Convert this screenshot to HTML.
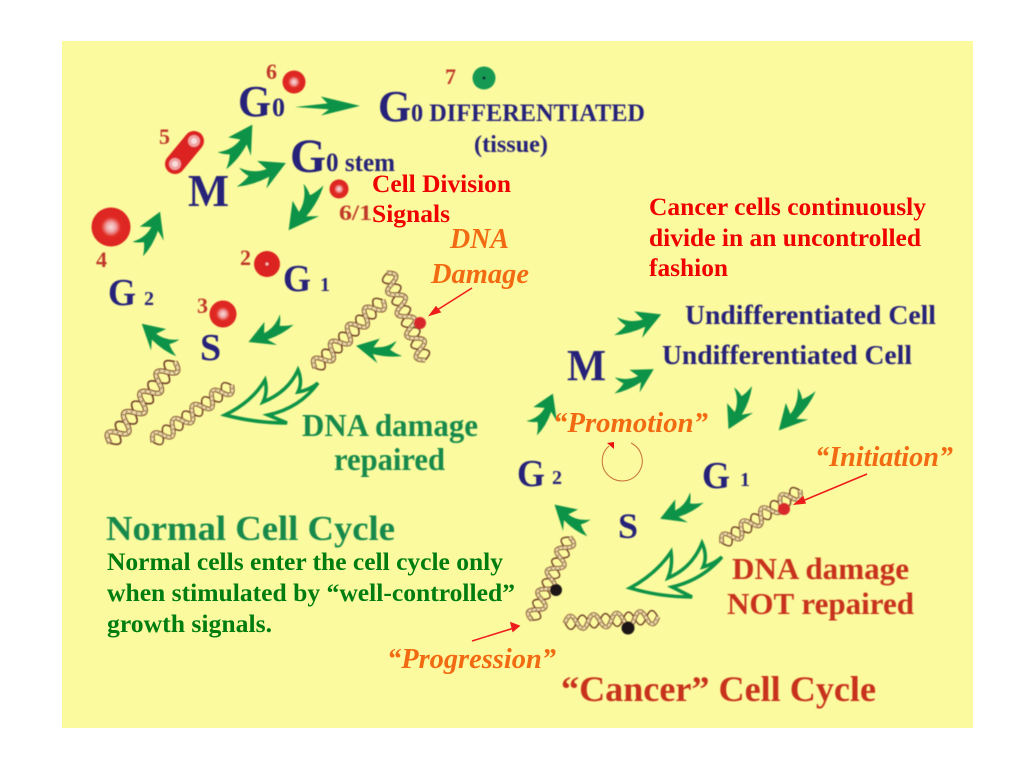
<!DOCTYPE html>
<html><head><meta charset="utf-8"><style>
html,body{margin:0;padding:0;background:#fff}
svg{display:block}
text{font-family:"Liberation Serif",serif;font-weight:bold}
.n{fill:#26227a}.o{fill:#c0392b}.r{fill:#f00000}.g{fill:#007d10}.dg{fill:#12894c}.cr{fill:#c8301e}
.or{fill:#f26a12;font-style:italic}
</style></head><body>
<svg width="1024" height="768" viewBox="0 0 1024 768" xmlns="http://www.w3.org/2000/svg">
<defs>
<radialGradient id="c"><stop offset="0" stop-color="#f8dcdc"/><stop offset=".25" stop-color="#f0a2a2"/><stop offset=".5" stop-color="#e02a24"/><stop offset="1" stop-color="#dd2420"/></radialGradient>
<path id="ar" d="M0,13 Q9,9 13,5 Q8,0 6,-5 Q18,4 31,2 L24,-8 L50,0 L27,21 L32,10 Q15,15 0,13 Z" fill="#0f9347"/>
<path id="ars" d="M0,0 L25,-3 L20,-10 L50,0 L20,9 L26,3 Z" fill="#0f9347"/>
<g id="dna" fill="none">
<path d="M0,0 q6,16 12.5,0 t12.5,0 t12.5,0 t12.5,0 t12.5,0 t12.5,0 t12.5,0 t12.5,0" stroke="#6e3c28" stroke-width="1.6"/>
<path d="M0,0 q6,-16 12.5,0 t12.5,0 t12.5,0 t12.5,0 t12.5,0 t12.5,0 t12.5,0 t12.5,0" stroke="#7a4028" stroke-width="5"/>
<path d="M0,0 q6,-16 12.5,0 t12.5,0 t12.5,0 t12.5,0 t12.5,0 t12.5,0 t12.5,0 t12.5,0" stroke="#efdca4" stroke-width="2.8"/>
<path d="M0,0 q6,-16 12.5,0 t12.5,0 t12.5,0 t12.5,0 t12.5,0 t12.5,0 t12.5,0 t12.5,0" stroke="#5a4030" stroke-width="1.2" stroke-dasharray="1.5 3.5"/>
</g>
<filter id="b" x="-5%" y="-5%" width="110%" height="110%"><feGaussianBlur stdDeviation="0.45"/></filter>
</defs>
<rect x="62" y="41" width="911" height="687" fill="#fcfa9e"/>
<g filter="url(#b)">
<!-- cells -->
<circle cx="294" cy="82" r="11.5" fill="url(#c)"/>
<circle cx="339" cy="189" r="9.5" fill="url(#c)"/>
<circle cx="111" cy="227" r="19.5" fill="url(#c)"/>
<circle cx="267" cy="264" r="13" fill="#dd2420"/><circle cx="267" cy="264" r="1.5" fill="#f6c0c0"/>
<circle cx="223" cy="314" r="13.5" fill="url(#c)"/>
<line x1="194" y1="141" x2="175" y2="164" stroke="#dd2420" stroke-width="20" stroke-linecap="round"/>
<circle cx="194" cy="141" r="6" fill="#f0a2a2"/><circle cx="194" cy="141" r="3" fill="#f8dcdc"/>
<circle cx="175" cy="164" r="6" fill="#f0a2a2"/><circle cx="175" cy="164" r="3" fill="#f8dcdc"/>
<circle cx="484" cy="78" r="11.5" fill="#139a52"/><circle cx="484" cy="78" r="1.5" fill="#123"/>
<!-- green arrows -->
<use href="#ars" transform="translate(295,107) rotate(-1) scale(1.3,1)"/>
<use href="#ar" transform="translate(217,160) rotate(-45) scale(1,1)"/>
<use href="#ar" transform="translate(234,174) rotate(-12) scale(1.06,1)"/>
<use href="#ar" transform="translate(311,180) rotate(114) scale(1.1,-1.05)"/>
<use href="#ar" transform="translate(133,249) rotate(-54) scale(.92,.95)"/>
<use href="#ar" transform="translate(287,315) rotate(145) scale(.94,-.9)"/>
<use href="#ar" transform="translate(182,346) rotate(209) scale(.92,-.9)"/>
<use href="#ar" transform="translate(402,345) rotate(179) scale(.92,-.85)"/>
<use href="#ar" transform="translate(612,323) rotate(-10) scale(1,.95)"/>
<use href="#ar" transform="translate(611,383) rotate(-18) scale(.9,.85)"/>
<use href="#ar" transform="translate(527,428) rotate(-53) scale(.86,.95)"/>
<use href="#ar" transform="translate(740,383) rotate(104) scale(.95,-.95)"/>
<use href="#ar" transform="translate(805,385) rotate(120) scale(1.05,-.95)"/>
<use href="#ar" transform="translate(697,493) rotate(145) scale(.9,-.9)"/>
<use href="#ar" transform="translate(593,526) rotate(209) scale(.88,-.9)"/>
<!-- hollow arrows -->
<path d="M225,415 Q252,402 265,380 Q268,392 263,402 Q288,392 298,370 Q303,382 298,392 Q310,390 318,383 Q300,408 268,415 L287,423 Q255,423 225,415 Z" fill="none" stroke="#0f9347" stroke-width="3.5"/>
<path d="M630,588 Q656,574 671,552 Q673,566 668,578 Q692,568 702,543 Q708,556 703,567 Q714,564 722,557 Q702,580 672,587 L692,597 Q660,597 630,588 Z" fill="none" stroke="#0f9347" stroke-width="3.5"/>
<!-- DNA -->
<use href="#dna" transform="translate(110,443) rotate(-51.3) scale(1.04,1)"/>
<use href="#dna" transform="translate(153,442) rotate(-35.8) scale(.97,.85)"/>
<use href="#dna" transform="translate(315,368) rotate(-45) scale(.96,.9)"/>
<use href="#dna" transform="translate(387,273) rotate(66.4) scale(.95,.9)"/>
<use href="#dna" transform="translate(722,543) rotate(-34) scale(.94,.85)"/>
<use href="#dna" transform="translate(532,620) rotate(-65.4) scale(.91,.85)"/>
<use href="#dna" transform="translate(565,623) rotate(-3.7) scale(.93,.85)"/>
<circle cx="420" cy="323" r="6" fill="#d8282a"/><circle cx="784" cy="509" r="6" fill="#d8282a"/>
<circle cx="556" cy="590" r="6" fill="#1d1512"/><circle cx="628" cy="628" r="6.5" fill="#1d1512"/>
<!-- text -->
<g transform="translate(0,0.8)">
<text class="n" x="238" y="115" font-size="44" lengthAdjust="spacingAndGlyphs" textLength="33">G</text><text class="n" x="272" y="115" font-size="26">0</text>
<text class="n" x="290" y="171" font-size="48" lengthAdjust="spacingAndGlyphs" textLength="36">G</text><text class="n" x="326" y="170" font-size="26" lengthAdjust="spacingAndGlyphs" textLength="69">0 stem</text>
<text class="n" x="378" y="120" font-size="44" lengthAdjust="spacingAndGlyphs" textLength="33">G</text><text class="n" x="411" y="120" font-size="25" lengthAdjust="spacingAndGlyphs" textLength="234">0 DIFFERENTIATED</text>
<text class="n" x="474" y="151" font-size="24" lengthAdjust="spacingAndGlyphs" textLength="74">(tissue)</text>
<text class="n" x="188" y="205" font-size="46" lengthAdjust="spacingAndGlyphs" textLength="41">M</text>
<text class="n" x="108" y="304" font-size="38" lengthAdjust="spacingAndGlyphs" textLength="28">G</text><text class="n" x="144" y="304" font-size="20">2</text>
<text class="n" x="283" y="290" font-size="38" lengthAdjust="spacingAndGlyphs" textLength="28">G</text><text class="n" x="320" y="290" font-size="20">1</text>
<text class="n" x="200" y="359" font-size="38">S</text>
<text class="o" x="266" y="78" font-size="22">6</text><text class="o" x="445" y="83" font-size="22">7</text>
<text class="o" x="159" y="143" font-size="22">5</text><text class="o" x="96" y="266" font-size="22">4</text>
<text class="o" x="240" y="264" font-size="22">2</text><text class="o" x="197" y="312" font-size="22">3</text>
<text class="o" x="339" y="219" font-size="22" lengthAdjust="spacingAndGlyphs" textLength="33">6/1</text>
<text class="dg" x="302" y="435" font-size="32" lengthAdjust="spacingAndGlyphs" textLength="176">DNA damage</text>
<text class="dg" x="334" y="469" font-size="32" lengthAdjust="spacingAndGlyphs" textLength="111">repaired</text>
<text class="dg" x="106" y="539" font-size="35" lengthAdjust="spacingAndGlyphs" textLength="289">Normal Cell Cycle</text>
<text class="n" x="685" y="323" font-size="27" lengthAdjust="spacingAndGlyphs" textLength="251">Undifferentiated Cell</text>
<text class="n" x="662" y="363" font-size="27" lengthAdjust="spacingAndGlyphs" textLength="250">Undifferentiated Cell</text>
<text class="n" x="567" y="379" font-size="44" lengthAdjust="spacingAndGlyphs" textLength="39">M</text>
<text class="n" x="517" y="485" font-size="38" lengthAdjust="spacingAndGlyphs" textLength="28">G</text><text class="n" x="552" y="483" font-size="20">2</text>
<text class="n" x="702" y="487" font-size="38" lengthAdjust="spacingAndGlyphs" textLength="28">G</text><text class="n" x="740" y="485" font-size="20">1</text>
<text class="n" x="618" y="537" font-size="36">S</text>
<text class="cr" x="732" y="578" font-size="31" lengthAdjust="spacingAndGlyphs" textLength="177">DNA damage</text>
<text class="cr" x="727" y="613" font-size="31" lengthAdjust="spacingAndGlyphs" textLength="187">NOT repaired</text>
<text class="cr" x="561" y="700" font-size="36" lengthAdjust="spacingAndGlyphs" textLength="315">“Cancer” Cell Cycle</text>
</g>
</g>
<!-- crisp overlays -->
<g transform="translate(0,0.8)">
<text class="r" x="372" y="191" font-size="25" lengthAdjust="spacingAndGlyphs" textLength="139">Cell Division</text>
<text class="r" x="372" y="221" font-size="25" lengthAdjust="spacingAndGlyphs" textLength="78">Signals</text>
<text class="or" x="450" y="247" font-size="28" lengthAdjust="spacingAndGlyphs" textLength="59">DNA</text>
<text class="or" x="431" y="282" font-size="28" lengthAdjust="spacingAndGlyphs" textLength="98">Damage</text>
<text class="r" x="649" y="214" font-size="25" lengthAdjust="spacingAndGlyphs" textLength="277">Cancer cells continuously</text>
<text class="r" x="649" y="245" font-size="25" lengthAdjust="spacingAndGlyphs" textLength="272">divide in an uncontrolled</text>
<text class="r" x="649" y="275" font-size="25" lengthAdjust="spacingAndGlyphs" textLength="79">fashion</text>
<text class="or" x="553" y="431" font-size="29" lengthAdjust="spacingAndGlyphs" textLength="155">“Promotion”</text>
<text class="or" x="815" y="465" font-size="29" lengthAdjust="spacingAndGlyphs" textLength="138">“Initiation”</text>
<text class="or" x="387" y="667" font-size="29" lengthAdjust="spacingAndGlyphs" textLength="169">“Progression”</text>
<text class="g" x="107" y="569" font-size="25" lengthAdjust="spacingAndGlyphs" textLength="396">Normal cells enter the cell cycle only</text>
<text class="g" x="107" y="600" font-size="25" lengthAdjust="spacingAndGlyphs" textLength="408">when stimulated by “well-controlled”</text>
<text class="g" x="107" y="631" font-size="25" lengthAdjust="spacingAndGlyphs" textLength="165">growth signals.</text>
</g>
<!-- red lines -->
<g stroke="#ee1c1c" stroke-width="1.5" fill="#ee1c1c">
<line x1="472" y1="288" x2="434" y2="312"/><path d="M430,315 L436,307 L440,312 Z"/>
<line x1="867" y1="474" x2="800" y2="502"/><path d="M795,504 L803,497 L805,503 Z"/>
<line x1="472" y1="641" x2="514" y2="628"/><path d="M519,626 L511,623 L513,631 Z"/>
</g>
<path d="M609,446 A20,20 0 1 0 631,443" fill="none" stroke="#c8703a" stroke-width="1"/>
<path d="M607,443 L614,442 L614,449 Z" fill="#ee1010"/>
</svg>
</body></html>
